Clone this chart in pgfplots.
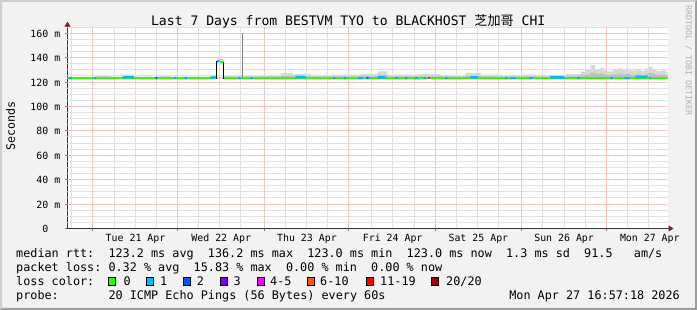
\documentclass[border=0pt]{standalone}
\usepackage{pgfplots}
\pgfplotsset{compat=1.18}
\usetikzlibrary{arrows.meta}
\usepackage{fontspec}
\setmainfont{DejaVu Sans Mono}[WordSpace={1,0,0}]
\newfontfamily\cjk{Noto Sans CJK SC}
\frenchspacing
\definecolor{bgcol}{HTML}{F2F2F2}
\definecolor{shadeA}{HTML}{CFCFCF}
\definecolor{shadeB}{HTML}{9E9E9E}
\definecolor{gridcol}{HTML}{E0E0E0}
\definecolor{mgridcol}{HTML}{F7C2C2}
\definecolor{axiscol}{HTML}{383838}
\definecolor{arrowcol}{HTML}{7F1F1F}
\definecolor{c0}{HTML}{26FF00}
\definecolor{c1}{HTML}{00B8FF}
\definecolor{c2}{HTML}{0059FF}
\definecolor{c3}{HTML}{7E00FF}
\definecolor{c45}{HTML}{FF00FF}
\definecolor{c610}{HTML}{FF5500}
\definecolor{c1119}{HTML}{FF0000}
\definecolor{c20}{HTML}{A10000}
\definecolor{smokeA}{HTML}{D8D8D8}
\definecolor{smokeB}{HTML}{C0C0C0}
\definecolor{wmcol}{HTML}{B0B0B0}
\newcommand\tickfont{\fontsize{9.9}{10}\selectfont}
\newcommand\lgfont{\fontsize{11.8}{12}\selectfont}
\tikzset{gridline/.style={draw=gridcol, line width=1pt},
         mgridline/.style={draw=mgridcol, line width=1pt}}
\begin{document}
\begin{tikzpicture}
\useasboundingbox (0,0) rectangle (697pt,310pt);
\fill[bgcol] (0,0) rectangle (697pt,310pt);
\fill[shadeA] (0,0) -- (0,310pt) -- (697pt,310pt) -- (695pt,308pt) -- (2pt,308pt) -- (2pt,2pt) -- cycle;
\fill[shadeB] (0,0) -- (697pt,0) -- (697pt,310pt) -- (695pt,308pt) -- (695pt,2pt) -- (2pt,2pt) -- cycle;
\begin{axis}[
  at={(67.5pt,81.5pt)}, anchor=south west,
  scale only axis, width=600pt, height=201.4pt,
  axis x line*=bottom, axis y line*=left,
  xmin=0, xmax=168, ymin=0, ymax=165,
  axis line style={draw=axiscol, line width=1pt},
  x axis line style={-{Triangle[length=5pt,width=6pt,color=arrowcol]}, shorten >=-6pt},
  y axis line style={-{Triangle[length=5pt,width=6pt,color=arrowcol]}, shorten >=-5.5pt},
  axis background/.style={fill=white},
  xtick={7.0,30.8,55.16,78.68,103.04,127.12,150.92},
  xticklabels={},
  extra x ticks={19.045,43.045,67.045,91.045,115.045,139.045,163.045},
  extra x tick labels={Tue 21 Apr,Wed 22 Apr,Thu 23 Apr,Fri 24 Apr,Sat 25 Apr,Sun 26 Apr,Mon 27 Apr},
  extra x tick style={major tick length=0pt},
  ytick={0,19.662,40.144,59.807,80.288,99.951,119.613,140.095,159.757},
  yticklabels={0\hphantom{mm},20 m,40 m,60 m,80 m,100 m,120 m,140 m,160 m},
  minor tick num=0,
  tick align=outside, major tick length=3pt,
  tick style={line width=1pt},
  xticklabel style={font=\tickfont, inner sep=0pt, anchor=north, yshift=-5pt},
  yticklabel style={font=\tickfont, inner sep=0pt, anchor=east, xshift=-4pt},
  unbounded coords=jump,
]
% grid: grey every 6 h and every 5 ms, red at midnight and every 20 ms
\pgfplotsinvokeforeach{1.12,13.16,19.04,24.92,36.68,42.56,48.44,61.04,66.92,72.8,85.12,91.0,97.16,108.92,114.8,120.68,133.0,139.16,145.04,156.8,162.68}{
  \draw[gridline] (axis cs:#1,0) -- (axis cs:#1,165);}
\pgfplotsinvokeforeach{4.916,9.831,14.747,25.397,30.313,35.229,45.060,49.975,54.891,64.722,69.638,75.373,85.204,90.119,95.035,104.866,109.782,114.698,125.348,130.264,135.179,145.011,149.926,154.842,164.673}{
  \draw[gridline] (axis cs:0,#1) -- (axis cs:168,#1);}
\pgfplotsinvokeforeach{7.0,30.8,55.16,78.68,103.04,127.12,150.92}{
  \draw[mgridline] (axis cs:#1,0) -- (axis cs:#1,165);}
\pgfplotsinvokeforeach{19.662,40.144,59.807,80.288,99.951,119.613,140.095,159.757}{
  \draw[mgridline] (axis cs:0,#1) -- (axis cs:168,#1);}
% smoke (light)
\addplot[const plot mark left, fill=smokeA, draw=none] coordinates {
(0,123)(0,123.8)(7.84,125.0)(12.04,124.5)(15.4,126.0)(18.48,124.5)(26.04,125.0)(28.84,124.5)(40.04,125.5)(41.72,124.0)(43.68,124.8)(54.6,125.5)(59.64,127.5)(63.0,126.5)(68.04,125.5)(73.64,126.0)(82.04,126.5)(86.8,128.8)(89.6,126.0)(98.84,126.5)(104.44,125.5)(111.44,127.5)(115.64,126.0)(121.24,125.5)(126.84,126.0)(133.84,125.5)(139.44,126.5)(143.64,128.5)(145.0,130.0)(146.44,133.8)(147.8,130.5)(149.24,131.6)(150.2,129.5)(151.2,128.8)(152.6,130.2)(154.0,131.2)(155.4,130.0)(156.5,131.0)(157.64,129.3)(159.0,130.5)(160.6,129.0)(161.7,131.0)(162.68,132.6)(163.8,130.5)(164.92,129.2)(166.3,129.8)(167.3,128.6)(168,128.6)(168,123)};
% smoke (dark)
\addplot[const plot mark left, fill=smokeB, draw=none] coordinates {
(0,123)(0,123.5)(7.84,124.0)(12.04,123.8)(15.4,124.6)(18.48,123.8)(26.04,124.0)(28.84,123.8)(40.04,124.2)(41.72,123.8)(43.68,124.0)(54.6,124.2)(59.64,125.0)(63.0,124.6)(68.04,124.2)(73.64,124.4)(82.04,124.6)(86.8,125.6)(89.6,124.4)(98.84,124.6)(104.44,124.2)(111.44,125.0)(115.64,124.4)(121.24,124.2)(126.84,124.4)(133.84,124.2)(139.44,124.6)(143.64,125.5)(145.0,126.2)(146.44,127.8)(147.8,126.4)(149.24,126.9)(150.2,125.9)(151.2,125.6)(152.6,126.2)(154.0,126.7)(155.4,126.1)(156.5,126.6)(157.64,125.8)(159.0,126.4)(160.6,125.7)(161.7,126.6)(162.68,127.4)(163.8,126.4)(164.92,125.8)(166.3,126.1)(167.3,125.5)(168,125.5)(168,123)};
% smoke above the spike
\addplot[fill=smokeA, draw=none] coordinates {(41.72,136.4)(41.72,138.6)(43.68,138.6)(43.68,136.4)};
% single tall smoke sample
\addplot[draw=gray, line width=1pt] coordinates {(49.0,123.5)(49.0,160)};
% median rtt, loss 0
\addplot[draw=c0, line width=2.3pt] coordinates {(0,123.2)(41.6,123.2)(41.65,nan)(43.68,123.2)(168,123.2)};
% spike steps
\addplot[draw=black, line width=1pt] coordinates {(41.72,122.3)(41.72,137.5)};
\addplot[draw=black, line width=1pt] coordinates {(43.68,136.8)(43.68,122.3)};
\addplot[draw=c0, line width=2.1pt] coordinates {(42.56,136.4)(43.5,136.4)};
% median rtt, loss 1
\addplot[draw=c1, line width=2.3pt] coordinates {
(0.4,123.2)(1.2,123.2)(1.3,nan)
(7.3,123.2)(8.0,123.2)(8.1,nan)
(15.4,123.9)(18.5,123.9)(18.6,nan)
(24.5,123.2)(25.2,123.2)(25.3,nan)
(29.8,123.2)(30.4,123.2)(30.5,nan)
(32.7,123.2)(33.4,123.2)(33.5,nan)
(40.0,123.7)(41.6,123.7)(41.65,nan)
(41.85,137.0)(42.56,137.0)(42.6,nan)
(47.8,123.2)(48.5,123.2)(48.6,nan)
(51.2,123.2)(51.9,123.2)(52.0,nan)
(63.8,124.0)(66.7,124.0)(66.8,nan)
(74.4,123.2)(75.1,123.2)(75.2,nan)
(77.4,123.2)(78.0,123.2)(78.1,nan)
(81.4,123.2)(82.7,123.2)(82.8,nan)
(83.6,123.2)(84.6,123.2)(84.7,nan)
(86.8,123.8)(89.1,123.8)(89.2,nan)
(91.7,123.2)(92.4,123.2)(92.5,nan)
(94.5,123.2)(95.2,123.2)(95.3,nan)
(97.3,123.2)(98.0,123.2)(98.1,nan)
(99.8,123.2)(100.4,123.2)(100.5,nan)
(105.7,123.2)(106.4,123.2)(106.5,nan)
(112.8,123.8)(114.9,123.8)(115.0,nan)
(122.5,123.2)(123.2,123.2)(123.3,nan)
(124.0,123.2)(125.5,123.2)(125.6,nan)
(129.3,123.2)(130.3,123.2)(130.4,nan)
(135.2,123.8)(138.6,123.8)(139.2,123.2)(139.3,nan)
(142.7,123.2)(143.4,123.2)(143.5,nan)
(152.0,123.2)(152.7,123.2)(152.8,nan)
(155.9,123.2)(157.4,123.2)(157.5,nan)
(159.0,124.2)(162.4,124.2)(162.5,nan)
(162.9,123.2)(163.4,123.2)};
% median rtt, loss 2 and 4-5
\addplot[draw=c2, line width=2.3pt] coordinates {(24.7,123.2)(25.0,123.2)(25.1,nan)(83.8,123.4)(84.2,123.4)};
\addplot[draw=c45, line width=2.3pt] coordinates {(101.0,123.4)(101.5,123.4)};
\end{axis}
% title
\node[anchor=base, inner sep=0pt] at (348.2pt,284pt) {\fontsize{13.1}{15}\selectfont Last 7 Days from BESTVM TYO to BLACKHOST {\cjk 芝加哥} CHI};
% y label
\node[rotate=90, inner sep=0pt] at (10.5pt,184pt) {\fontsize{11.6}{12}\selectfont Seconds};
% watermark
\node[rotate=-90, anchor=west, inner sep=0pt, text=wmcol] at (688.5pt,305pt) {\fontsize{8.3}{9}\selectfont RRDTOOL / TOBI OETIKER};
% legend rows (monospace columns of 7.1 px from x = 16)
\begin{scope}[every node/.style={anchor=base west, inner sep=0pt, font=\lgfont}]
\node at (16pt,52.5pt) {median rtt:};
\node at (108.3pt,52.5pt) {123.2 ms avg};
\node at (207.7pt,52.5pt) {136.2 ms max};
\node at (307.1pt,52.5pt) {123.0 ms min};
\node at (406.5pt,52.5pt) {123.0 ms now};
\node at (505.9pt,52.5pt) {1.3 ms sd};
\node at (584pt,52.5pt) {91.5};
\node at (633.7pt,52.5pt) {am/s};
\node at (16pt,38.6pt) {packet loss:};
\node at (108.3pt,38.6pt) {0.32 \% avg};
\node at (193.5pt,38.6pt) {15.83 \% max};
\node at (285.8pt,38.6pt) {0.00 \% min};
\node at (371pt,38.6pt) {0.00 \% now};
\node at (16pt,24.7pt) {loss color:};
\node at (123.3pt,24.7pt) {0};
\node at (160pt,24.7pt) {1};
\node at (196.7pt,24.7pt) {2};
\node at (233.3pt,24.7pt) {3};
\node at (270pt,24.7pt) {4-5};
\node at (320pt,24.7pt) {6-10};
\node at (380pt,24.7pt) {11-19};
\node at (446pt,24.7pt) {20/20};
\node at (16pt,10.8pt) {probe:};
\node at (108.3pt,10.8pt) {20 ICMP Echo Pings (56 Bytes) every 60s};
\node[anchor=base east] at (680pt,10.8pt) {Mon Apr 27 16:57:18 2026};
\end{scope}
\begin{scope}[line width=1pt, draw=black]
\filldraw[fill=c0] (108.5pt,24.5pt) rectangle ++(7pt,8pt);
\filldraw[fill=c1] (146.5pt,24.5pt) rectangle ++(7pt,8pt);
\filldraw[fill=c2] (183.5pt,24.5pt) rectangle ++(7pt,8pt);
\filldraw[fill=c3] (220.5pt,24.5pt) rectangle ++(7pt,8pt);
\filldraw[fill=c45] (257.5pt,24.5pt) rectangle ++(7pt,8pt);
\filldraw[fill=c610] (307.5pt,24.5pt) rectangle ++(7pt,8pt);
\filldraw[fill=c1119] (366.5pt,24.5pt) rectangle ++(7pt,8pt);
\filldraw[fill=c20] (431.5pt,24.5pt) rectangle ++(7pt,8pt);
\end{scope}
\end{tikzpicture}
\end{document}
